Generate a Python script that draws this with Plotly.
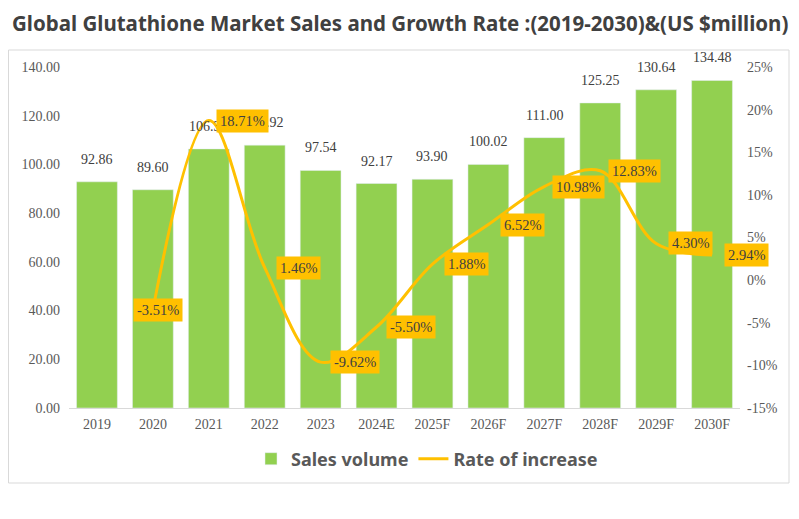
import plotly.graph_objects as go

years = ["2019", "2020", "2021", "2022", "2023", "2024E", "2025F", "2026F",
         "2027F", "2028F", "2029F", "2030F"]
sales = [92.86, 89.60, 106.37, 107.92, 97.54, 92.17, 93.90, 100.02,
         111.00, 125.25, 130.64, 134.48]
rate_years = years[1:]
rate = [-3.51, 18.71, 1.46, -9.62, -5.50, 1.88, 6.52, 10.98, 12.83, 4.30, 2.94]
left_ticks = [0, 20, 40, 60, 80, 100, 120, 140]
right_ticks = [-15, -10, -5, 0, 5, 10, 15, 20, 25]

GREEN = "#92D050"
ORANGE = "#FFC000"
SERIF = "Liberation Serif, Times New Roman, serif"

fig = go.Figure()
fig.add_trace(go.Bar(
    x=years, y=sales, name="<b>Sales volume</b>", marker_color=GREEN, width=0.73,
    hoverinfo="skip",
))
fig.add_trace(go.Scatter(
    x=rate_years, y=rate, name="<b>Rate of increase</b>", yaxis="y2", mode="lines",
    line=dict(color=ORANGE, width=3, shape="spline", smoothing=1.0),
    hoverinfo="skip",
))

ann = []
for i, v in enumerate(sales):
    ann.append(dict(x=i, y=v, xref="x", yref="y", text=f"{v:.2f}",
                    showarrow=False, yanchor="bottom", yshift=13,
                    font=dict(family=SERIF, size=14, color="#404040")))
for i, v in enumerate(rate):
    ann.append(dict(x=years.index(rate_years[i]), y=v, xref="x", yref="y2",
                    text=f"{v:.2f}%", showarrow=False,
                    xshift=5 if i == 0 else 34,
                    bgcolor=ORANGE, borderpad=3,
                    font=dict(family=SERIF, size=14.5, color="#404040")))

# page has an 8px body margin; work in figure coordinates
W, H = 783, 503
L, T = 61, 59
R = W - 732
B = H - 400
pw, ph = W - L - R, H - T - B

TICKFONT = dict(family=SERIF, size=14, color="#595959")

fig.update_layout(
    width=W, height=H,
    margin=dict(l=L, r=R, t=T, b=B, pad=0, autoexpand=False),
    paper_bgcolor="white", plot_bgcolor="white",
    title=dict(text="<b>Global Glutathione Market Sales and Growth Rate :(2019-2030)&(US $million)</b>",
               x=4 / W, xanchor="left", y=1 - 16 / H, yanchor="middle",
               font=dict(family="Noto Sans, sans-serif", size=20.5, color="#404040")),
    xaxis=dict(type="category", showline=True, linecolor="#D9D9D9", linewidth=1,
               ticks="", tickfont=TICKFONT,
               showgrid=False, range=[-0.5, 11.5], automargin=False,
               ticklabelstandoff=3),
    yaxis=dict(range=[0, 140], tickvals=left_ticks,
               ticktext=[f"{t:.2f}" for t in left_ticks], showgrid=False,
               zeroline=False, tickfont=TICKFONT,
               ticklabelstandoff=8, automargin=False),
    yaxis2=dict(range=[-15, 25], tickvals=right_ticks,
                ticktext=[f"{t}%" for t in right_ticks], overlaying="y", side="right",
                showgrid=False, zeroline=False,
                tickfont=TICKFONT,
                ticklabelstandoff=6, automargin=False),
    legend=dict(orientation="h", x=(419 - L) / pw, xanchor="center",
                y=-(451 - 400) / ph, yanchor="middle",
                font=dict(family="Noto Sans, sans-serif", size=18, color="#595959"),
                itemwidth=30),
    annotations=ann,
    shapes=[dict(type="rect", xref="paper", yref="paper",
                 x0=(0.5 - L) / pw, x1=(781 - L) / pw,
                 y0=-(475 - 400) / ph, y1=(400 - 42) / ph,
                 line=dict(color="#D9D9D9", width=1), layer="below")],
    showlegend=True,
)
fig.write_html("out.html")
